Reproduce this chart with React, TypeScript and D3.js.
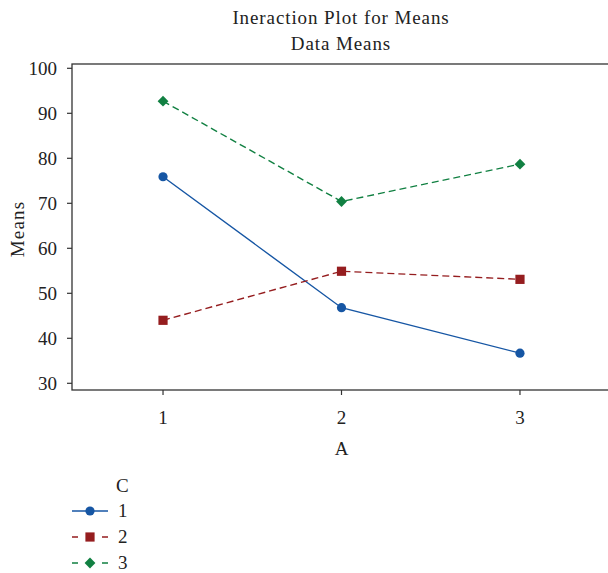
import * as d3 from 'd3';
import React from 'react';

// levels of factor A and the mean for each level of C
const levelsA = [1, 2, 3];
const meansC1 = [75.9, 46.8, 36.7];
const meansC2 = [44.0, 54.9, 53.1];
const meansC3 = [92.7, 70.4, 78.7];
const yTicks = [30, 40, 50, 60, 70, 80, 90, 100];

const series = [
	{ name: '1', values: meansC1, color: '#1656a4', dash: null, shape: 'circle' },
	{ name: '2', values: meansC2, color: '#951d1f', dash: '7,4', shape: 'square' },
	{ name: '3', values: meansC3, color: '#118042', dash: '7,4', shape: 'diamond' },
];

const font = '"Liberation Serif", "DejaVu Serif", serif';
const W = 608, H = 573;
const fs = 19;

function Marker({ shape, x, y, color }) {
	if (shape === 'circle') return <circle cx={x} cy={y} r={4.6} fill={color} />;
	if (shape === 'square') return <rect x={x - 4.6} y={y - 4.6} width={9.2} height={9.2} fill={color} />;
	const s = 5.4;
	return <path d={`M${x},${y - s}L${x + s},${y}L${x},${y + s}L${x - s},${y}Z`} fill={color} />;
}

export default function App() {
	const left = 72, top = 64, bottom = 390, right = 611;
	const x = d3.scaleLinear().domain([0.49, 3.51]).range([left, right]);
	const y = d3.scaleLinear().domain([30, 100]).range([383.3, 68.3]);
	const line = d3.line<number>().x((d, i) => x(levelsA[i])).y(d => y(d));

	return (
		<svg width={W} height={H} style={{ position: 'absolute', left: 0, top: 0 }} fontFamily={font} fill="#222">
			<rect width={W} height={H} fill="white" />
			<text x={341} y={24} textAnchor="middle" fontSize={fs} letterSpacing={0.9}>Ineraction Plot for Means</text>
			<text x={341} y={49.5} textAnchor="middle" fontSize={fs} letterSpacing={0.9}>Data Means</text>

			{/* frame */}
			<rect x={left} y={top} width={right - left} height={bottom - top} fill="none" stroke="#333" strokeWidth={1.3} />

			{/* y axis */}
			{yTicks.map(t => (
				<g key={t}>
					<line x1={left - 5} x2={left} y1={y(t)} y2={y(t)} stroke="#333" strokeWidth={1.2} />
					<text x={57} y={y(t)} dy="0.33em" textAnchor="end" fontSize={fs}>{t}</text>
				</g>
			))}
			<text transform={`translate(24, ${(top + bottom) / 2 + 2}) rotate(-90)`} textAnchor="middle" fontSize={fs} letterSpacing={1.2}>Means</text>

			{/* x axis */}
			{levelsA.map(a => (
				<g key={a}>
					<line x1={x(a)} x2={x(a)} y1={bottom} y2={bottom + 5} stroke="#333" strokeWidth={1.2} />
					<text x={x(a)} y={424} textAnchor="middle" fontSize={fs}>{a}</text>
				</g>
			))}
			<text x={x(2)} y={455} textAnchor="middle" fontSize={fs}>A</text>

			{/* lines and points */}
			{series.map(s => (
				<g key={s.name}>
					<path d={line(s.values)} fill="none" stroke={s.color} strokeWidth={1.4} strokeDasharray={s.dash || undefined} />
					{s.values.map((v, i) => <Marker key={i} shape={s.shape} x={x(levelsA[i])} y={y(v)} color={s.color} />)}
				</g>
			))}

			{/* legend */}
			<text x={116} y={492} fontSize={fs}>C</text>
			{series.map((s, i) => {
				const ly = 511 + i * 26;
				return (
					<g key={s.name}>
						<line x1={72} x2={108} y1={ly} y2={ly} stroke={s.color} strokeWidth={1.4} strokeDasharray={s.dash ? '6,9' : undefined} />
						<Marker shape={s.shape} x={90} y={ly} color={s.color} />
						<text x={118} y={ly} dy="0.33em" fontSize={fs}>{s.name}</text>
					</g>
				);
			})}
		</svg>
	);
}
